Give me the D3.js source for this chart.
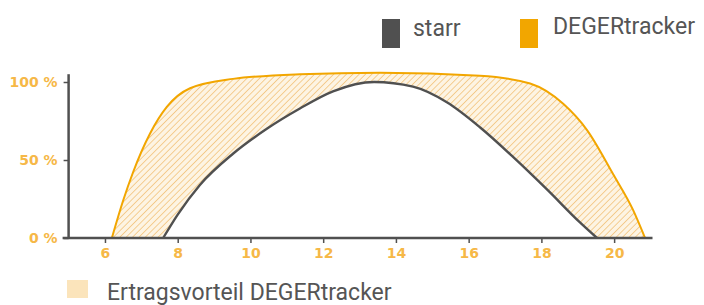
<!DOCTYPE html>
<html>
<head>
<meta charset="utf-8">
<script src="https://cdn.jsdelivr.net/npm/d3@7"></script>
<style>
  html, body { margin: 0; padding: 0; background: #fff; }
  svg { display: block; }
</style>
</head>
<body>
<svg id="chart" width="704" height="305"></svg>
<script>
// Stunden (x) und relative Leistung in % (y)
const degerHours  = [6.19, 6.5, 6.77, 7.24, 7.7, 8.34, 9.52, 11.36, 13.56, 16.31, 17.69, 18.6, 19.26, 19.97, 20.52, 20.85];
const degerValues = [0, 24, 42, 67, 84, 96, 102, 105, 106, 104, 99, 86, 69, 41, 18, 0];

const starrHours  = [7.6, 8.0, 8.61, 9.52, 10.45, 11.36, 12.27, 13.4, 14.47, 15.4, 16.31, 17.22, 18.16, 19.06, 19.53];
const starrValues = [0, 15, 34, 54, 70, 83, 94, 100, 97, 87, 71, 52, 31, 10, 0];

const xTicks = [6, 8, 10, 12, 14, 16, 18, 20];
const yTicks = [0, 50, 100];
const yTickLabels = ['0 %', '50 %', '100 %'];

const legendLabels = ['starr', 'DEGERtracker'];
const areaLabel = 'Ertragsvorteil DEGERtracker';

const ORANGE = '#f2a600';
const GREY = '#505050';
const TICK_COLOR = '#f6b847';

const svg = d3.select('#chart');

const x = d3.scaleLinear().domain([5, 21]).range([68.6, 650.5]);
const y = d3.scaleLinear().domain([0, 100]).range([238, 82]);

// hatch pattern for the gain area
const defs = svg.append('defs');
const pat = defs.append('pattern')
  .attr('id', 'hatch')
  .attr('patternUnits', 'userSpaceOnUse')
  .attr('width', 4.5)
  .attr('height', 4.5)
  .attr('patternTransform', 'rotate(45)');
pat.append('rect').attr('width', 4.5).attr('height', 4.5).attr('fill', '#fdf4e3');
pat.append('line')
  .attr('x1', 0).attr('y1', 0).attr('x2', 0).attr('y2', 4.5)
  .attr('stroke', '#f2c47e').attr('stroke-width', 1.6);

const deger = degerHours.map((h, i) => [h, degerValues[i]]);
const starr = starrHours.map((h, i) => [h, starrValues[i]]);

const curve = d3.curveMonotoneX;
const line = d3.line().x(d => x(d[0])).y(d => y(d[1])).curve(curve);
const area = d3.area().x(d => x(d[0])).y0(y(0)).y1(d => y(d[1])).curve(curve);

// hatched area under the tracker curve, then blank out what the fixed system gets
svg.append('path').attr('d', area(deger)).attr('fill', 'url(#hatch)');
svg.append('path').attr('d', area(starr)).attr('fill', '#fff');

svg.append('path')
  .attr('d', line(starr))
  .attr('fill', 'none')
  .attr('stroke', GREY)
  .attr('stroke-width', 2.4);

svg.append('path')
  .attr('d', line(deger))
  .attr('fill', 'none')
  .attr('stroke', ORANGE)
  .attr('stroke-width', 2);

// axes
const xAxis = svg.append('g')
  .attr('transform', `translate(0,${y(0)})`)
  .call(d3.axisBottom(x).tickValues(xTicks).tickSize(5).tickPadding(5).tickFormat(d => d));
xAxis.select('.domain').remove();

const yAxis = svg.append('g')
  .attr('transform', `translate(${x(5)},0)`)
  .call(d3.axisLeft(y).tickValues(yTicks).tickSize(5).tickPadding(6)
    .tickFormat((d, i) => yTickLabels[i]));
yAxis.select('.domain').remove();

svg.selectAll('.tick line').attr('stroke', GREY).attr('stroke-width', 1.5);
svg.selectAll('.tick text')
  .attr('fill', TICK_COLOR)
  .style('font-family', 'DejaVu Sans, sans-serif')
  .style('font-weight', 'bold')
  .style('font-size', '14px');

svg.append('line')
  .attr('x1', x(5) - 6).attr('x2', x(21) + 2)
  .attr('y1', y(0)).attr('y2', y(0))
  .attr('stroke', GREY).attr('stroke-width', 2.5);
svg.append('line')
  .attr('x1', x(5)).attr('x2', x(5))
  .attr('y1', y(0) + 1).attr('y2', y(105))
  .attr('stroke', GREY).attr('stroke-width', 2.5);

// legend top
const legend = svg.append('g').style('font-family', 'Roboto, sans-serif');
const legendItems = [
  { label: legendLabels[0], color: GREY, x: 382, tx: 413, ty: 36 },
  { label: legendLabels[1], color: ORANGE, x: 520, tx: 553, ty: 34 }
];
legend.selectAll('rect')
  .data(legendItems)
  .join('rect')
    .attr('x', d => d.x)
    .attr('y', 19)
    .attr('width', 18)
    .attr('height', 29)
    .attr('fill', d => d.color);
legend.selectAll('text')
  .data(legendItems)
  .join('text')
    .attr('x', d => d.tx)
    .attr('y', d => d.ty)
    .attr('fill', '#555')
    .style('font-size', '23px')
    .text(d => d.label);

// legend bottom
svg.append('rect')
  .attr('x', 67).attr('y', 280)
  .attr('width', 21).attr('height', 18)
  .attr('fill', '#fbe4bb');
svg.append('text')
  .attr('x', 107).attr('y', 300)
  .attr('fill', '#555')
  .style('font-family', 'Roboto, sans-serif')
  .style('font-size', '23px')
  .text(areaLabel);
</script>
</body>
</html>
